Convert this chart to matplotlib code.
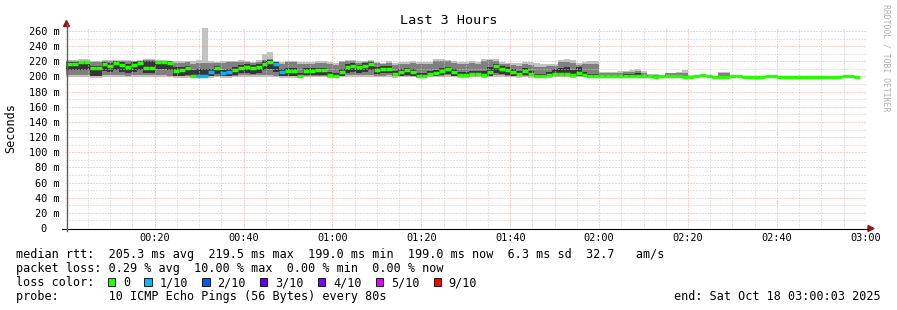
import matplotlib
matplotlib.use("Agg")
import matplotlib.pyplot as plt
import numpy as np
from matplotlib.patches import Rectangle, Polygon
from matplotlib.lines import Line2D

plt.rcParams['font.family'] = ['DejaVu Sans Mono']

# ---------------- data ----------------
title = "Last 3 Hours"
y_label = "Seconds"
x_tick_minutes = [20, 40, 60, 80, 100, 120, 140, 160, 180]
x_tick_labels = ["00:20", "00:40", "01:00", "01:20", "01:40", "02:00", "02:20", "02:40", "03:00"]
y_tick_values = [0, 20, 40, 60, 80, 100, 120, 140, 160, 180, 200, 220, 240, 260]
y_tick_labels = ["0  ", "20 m", "40 m", "60 m", "80 m", "100 m", "120 m", "140 m", "160 m",
                 "180 m", "200 m", "220 m", "240 m", "260 m"]
step_seconds = 80

# median rtt per 80 s step (ms)
median = [216.5, 216.5, 218.7, 219, 211, 211, 216, 214, 217.7, 215,
          213, 215, 217.7, 211, 211, 218.5, 218.5, 217.7, 207.7, 209,
          211, 200, 200, 200, 206, 211, 205, 206, 209, 211,
          213, 211, 213, 217, 218.5, 216, 206, 207.5, 207.5, 200.5,
          207.7, 207.7, 208, 208, 202, 200.5, 206, 213, 214, 212,
          214, 216, 208.6, 210, 210.5, 203.5, 205.5, 208, 205.5, 200.5,
          200.6, 203.3, 204.5, 207.7, 209.5, 206.5, 201.5, 202, 203, 203,
          202.5, 206, 213.5, 210.5, 208.6, 205.5, 203.7, 207.3, 203.3, 200.6,
          200.6, 202, 203, 203, 203.5, 202, 205, 202, 200.5, 200.5,
          200.5, 200.5, 200.5, 200.5, 200.5, 200.5, 200.5, 200.5, 200.5, 199,
          200, 200, 200, 200, 199, 199, 200, 201.5, 200, 199,
          199, 199, 200, 200, 199, 199, 199, 199, 200, 200,
          199, 199, 199, 199, 199, 199, 199, 199, 199, 199,
          199, 200, 200, 199]

# lost pings out of 10 per step
loss = [0] * 22 + [1, 1, 1, 0, 1, 1] + [0] * 7 + [1, 1] + [0] * 97

# smoke: outer band (min..max ping)
smoke_hi = [222, 222, 222.5, 222.5, 221, 221, 222, 221.5, 222, 221.5,
            222, 221, 222, 222.5, 222.5, 222, 222, 221, 220, 220,
            220.5, 220.5, 221.5, 264, 220, 219, 220, 220.5, 221, 221.5,
            220, 219.5, 221.5, 230, 232, 220, 219, 221, 221, 219.5,
            219, 219, 220, 220, 219, 218, 221, 222, 222, 220,
            221, 222, 219.5, 218, 220, 218, 219, 219, 221, 219.5,
            219, 218.5, 222.5, 222.5, 222, 220, 219, 219.5, 220, 219,
            223, 223.5, 222.5, 219, 218, 218, 217.5, 219, 219, 217.5,
            217, 217, 217, 222, 222.5, 221.5, 218, 219.5, 220.5, 220,
            206, 206, 206.5, 207, 207, 208.5, 209.5, 207, 203.5, 203,
            202, 205, 205, 206.5, 209, 202, 201.5, 202.5, 201, 201,
            205.5, 205.5, 201, 201, 200, 200, 200, 200, 201, 201,
            200, 200, 200, 200, 200, 200, 200, 200, 200, 200,
            200, 201, 201, 200]
smoke_lo = [199.5, 199.5, 199, 199, 198.5, 198.5, 199.5, 199.5, 199.5, 199.5,
            199, 199, 199, 199.5, 199.5, 199, 199, 199, 198.5, 198.5,
            198.5, 198.5, 198, 198, 198.5, 199, 198.5, 198.5, 199, 199,
            199, 199, 199.5, 199.5, 199.5, 199, 198.5, 198.5, 198.5, 198.5,
            199, 199, 199, 199, 198.5, 198.5, 199, 199.5, 199.5, 199.5,
            199.5, 199.5, 199, 199, 199, 198.5, 199, 199, 199, 198.5,
            198.5, 199, 199, 199.5, 199.5, 199, 198.5, 198.5, 199, 199,
            198.5, 199, 199.5, 199.5, 199, 199, 198.5, 199, 198.5, 198.5,
            198.5, 198.5, 199, 199, 199, 198.5, 199, 199, 198.5, 198.5,
            199, 199, 199, 199, 199, 199, 199, 199, 199, 198,
            199, 199, 199, 199, 198, 198, 199, 200, 199, 198,
            198, 198, 199, 199, 198, 198, 198, 198, 199, 199,
            198, 198, 198, 198, 198, 198, 198, 198, 198, 198,
            198, 199, 199, 198]
# middle band
smoke_mid_hi = [220.5, 220.5, 221, 221, 219.5, 219.5, 220.5, 220, 221, 220,
                220.5, 220, 221, 221.5, 221.5, 221, 221, 220, 218, 218,
                218.5, 217, 217.5, 218, 218, 217.5, 218, 218.5, 219.5, 219.5,
                218.5, 218, 219.5, 222, 223, 219, 217, 218.5, 219.5, 217,
                217, 217, 218, 218, 216, 215.5, 219, 220, 220, 218,
                219, 220, 217.5, 216.5, 218, 215, 216.5, 217, 218, 216,
                216, 216, 220, 220.5, 220, 218, 216, 217, 217.5, 216.5,
                221, 221.5, 221, 217, 216, 215.5, 214.5, 216, 215.5, 213,
                212.5, 213.5, 213.5, 219, 219.5, 218, 215, 217, 217, 217,
                204.5, 204.5, 205, 205, 205.5, 206, 207, 205, 202, 201.5,
                201, 204, 204, 204, 204, 201, 201, 202, 201, 200.5,
                205, 205, 200.5, 200.5, 199.5, 199.5, 199.5, 199.5, 200.5, 200.5,
                199.5, 199.5, 199.5, 199.5, 199.5, 199.5, 199.5, 199.5, 199.5, 199.5,
                199.5, 200.5, 200.5, 199.5]
smoke_mid_lo = [202, 202, 201.5, 201.5, 200.5, 200.5, 202, 202.5, 202, 201.5,
                201, 201.5, 201.5, 202.5, 202.5, 202, 201.5, 201, 200.5, 200.5,
                200.5, 199.5, 199.5, 199.5, 200, 201, 200.5, 200.5, 201, 201.5,
                201.5, 201.5, 202, 202, 202.5, 201, 200, 200, 200, 199.5,
                200.5, 200.5, 201, 201, 199.5, 199.5, 200.5, 201.5, 202, 201.5,
                202, 202, 201, 201, 201.5, 200, 200.5, 201, 200.5, 199.5,
                199.5, 200, 200.5, 201, 201.5, 200.5, 200, 200, 200.5, 200.5,
                200, 200.5, 202, 201.5, 201, 200.5, 200, 200.5, 200, 199.5,
                199.5, 199.5, 200, 200, 200, 199.5, 200.5, 200, 199.5, 199.5,
                199.5, 199.5, 199.5, 199.5, 199.5, 199.5, 199.5, 199.5, 199.5, 198.5,
                199.5, 199.5, 199.5, 199.5, 198.5, 198.5, 199.5, 200.5, 199.5, 198.5,
                198.5, 198.5, 199.5, 199.5, 198.5, 198.5, 198.5, 198.5, 199.5, 199.5,
                198.5, 198.5, 198.5, 198.5, 198.5, 198.5, 198.5, 198.5, 198.5, 198.5,
                198.5, 199.5, 199.5, 198.5]
# inner (darkest) band around the median
smoke_in_hi = [219.5, 219.5, 221, 221, 214, 214, 219, 217.5, 220.5, 218.5,
               217, 218.5, 220.5, 221, 221, 221, 221, 220.5, 212, 212.5,
               214, 209, 210, 210, 209.5, 214, 208.5, 209.5, 212.5, 215,
               216.5, 215, 216.5, 220, 221.5, 219, 209.5, 211, 211, 204,
               211, 211, 211.5, 211.5, 206, 204, 210, 216.5, 217.5, 215.5,
               217.5, 219, 212.5, 213.5, 214, 207.5, 209.5, 211.5, 209.5, 204,
               204, 207, 208.5, 211.5, 213, 210, 205.5, 206, 207, 207,
               207.5, 213, 217, 214.5, 212.5, 209.5, 207.5, 211, 207.5, 203.5,
               203.5, 206, 210, 211.5, 212.5, 208.5, 212.5, 206.5, 203.5, 203,
               202, 202, 202.5, 202.5, 203, 203, 204, 202.5, 201.5, 199.5,
               200.5, 200.5, 200.5, 200.5, 199.5, 199.5, 200.5, 202, 200.5, 199.5,
               199.5, 199.5, 200.5, 200.5, 199.5, 199.5, 199.5, 199.5, 200.5, 200.5,
               199.5, 199.5, 199.5, 199.5, 199.5, 199.5, 199.5, 199.5, 199.5, 199.5,
               199.5, 200.5, 200.5, 199.5]
smoke_in_lo = [208, 208, 209, 209, 200.5, 200.5, 207, 205.5, 208, 206.5,
               204.5, 206.5, 208, 205, 205, 210, 210, 209, 200.5, 200.5,
               202, 199.5, 199.5, 199.5, 200.5, 203, 200.5, 200.5, 202, 204,
               205, 203.5, 205, 209, 210, 206, 200.5, 200.5, 200.5, 199.5,
               201.5, 201.5, 202, 202, 200, 199.5, 201, 205, 206, 204.5,
               206, 208, 203, 204, 204, 200.5, 201, 202, 201, 199.5,
               199.5, 200.5, 200.5, 202, 203, 201, 200, 200.5, 200.5, 200.5,
               200.5, 201, 205, 203.5, 202, 201, 200.5, 201.5, 200.5, 199.5,
               199.5, 200, 200.5, 200.5, 201, 200.5, 201, 200.5, 199.5, 199.5,
               199.5, 199.5, 199.5, 199.5, 199.5, 199.5, 199.5, 199.5, 199.5, 198.5,
               199.5, 199.5, 199.5, 199.5, 198.5, 198.5, 199.5, 201, 199.5, 198.5,
               198.5, 198.5, 199.5, 199.5, 198.5, 198.5, 198.5, 198.5, 199.5, 199.5,
               198.5, 198.5, 198.5, 198.5, 198.5, 198.5, 198.5, 198.5, 198.5, 198.5,
               198.5, 199.5, 199.5, 198.5]

loss_labels = ["0", "1/10", "2/10", "3/10", "4/10", "5/10", "9/10"]
loss_colors = ["#26ff00", "#00b8ff", "#0059ff", "#5e00ff", "#7e00ff", "#dd00ff", "#ff0000"]

stats_rtt = "median rtt:  205.3 ms avg  219.5 ms max  199.0 ms min  199.0 ms now  6.3 ms sd  32.7   am/s"
stats_loss = "packet loss: 0.29 % avg  10.00 % max  0.00 % min  0.00 % now"
probe_text = "probe:       10 ICMP Echo Pings (56 Bytes) every 80s"
end_text = "end: Sat Oct 18 03:00:03 2025"
side_text = "RRDTOOL / TOBI OETIKER"

# ---------------- figure ----------------
W, H = 897, 310
fig = plt.figure(figsize=(W / 100, H / 100), dpi=100)
fig.patch.set_facecolor("white")


def fx(px):
    return px / W


def fy(py):
    return 1 - py / H


ax = fig.add_axes([fx(66), fy(228), 800 / W, 200 / H])
ax.set_facecolor("white")

n = len(median)
step = step_seconds / 60.0
t_start = 0.05
edges = t_start + np.arange(n + 1) * step


def stair(v):
    v = np.asarray(v, dtype=float)
    return np.append(v, v[-1])


ax.fill_between(edges, stair(smoke_lo), stair(smoke_hi), step="post", color="#c2c2c2", lw=0, zorder=1)
ax.fill_between(edges, stair(smoke_mid_lo), stair(smoke_mid_hi), step="post", color="#808080", lw=0, zorder=1.1)
ax.fill_between(edges, stair(smoke_in_lo), stair(smoke_in_hi), step="post", color="#363636", lw=0, zorder=1.2)
ax.hlines(median, edges[:-1], edges[1:], colors=[loss_colors[l] for l in loss], lw=2.5, zorder=3)

ax.set_xlim(0.05, 180.05)
ax.set_ylim(0, 264)
ax.set_xticks(x_tick_minutes)
ax.set_xticklabels(x_tick_labels)
ax.set_xticks(np.arange(5, 180, 5), minor=True)
ax.set_yticks(y_tick_values)
ax.set_yticklabels(y_tick_labels)
ax.set_yticks(np.arange(10, 264, 10), minor=True)
ax.tick_params(axis="both", which="both", length=0)
ax.tick_params(axis="x", labelsize=7.4, pad=3.5, colors="#000000")
ax.tick_params(axis="y", labelsize=7.4, pad=4.5, colors="#000000")
ax.set_axisbelow(False)
ax.grid(which="major", color="#f0a0a0", linestyle=(0, (1, 2)), lw=0.72)
ax.grid(which="minor", color="#c8c8c8", linestyle=(0, (1, 2)), lw=0.72)
for s in ax.spines.values():
    s.set_visible(False)

# axis lines and arrows
fig.add_artist(Line2D([fx(62), fx(868)], [fy(228.5), fy(228.5)], color="#000000", lw=0.8))
fig.add_artist(Line2D([fx(66.5), fx(66.5)], [fy(231), fy(24)], color="#606060", lw=1.0))
fig.add_artist(Polygon([[fx(63.5), fy(26.5)], [fx(69.5), fy(26.5)], [fx(66.5), fy(20.5)]],
                       closed=True, color="#8b1a1a", transform=fig.transFigure))
fig.add_artist(Polygon([[fx(868), fy(225.5)], [fx(868), fy(231.5)], [fx(874), fy(228.5)]],
                       closed=True, color="#8b1a1a", transform=fig.transFigure))

# titles
fig.text(fx(448.5), fy(24), title, ha="center", va="baseline", fontsize=9.7)
fig.text(fx(11), fy(128), y_label, ha="center", va="center", rotation=90, fontsize=8.5)
fig.text(fx(886), fy(4), side_text, ha="center", va="top", rotation=270, fontsize=5.9, color="#b0b0b0")

# legend
fs = 8.5
cw = 7.14
fig.text(fx(16), fy(258), stats_rtt, ha="left", va="baseline", fontsize=fs)
fig.text(fx(16), fy(272), stats_loss, ha="left", va="baseline", fontsize=fs)
fig.text(fx(16), fy(286), "loss color:", ha="left", va="baseline", fontsize=fs)
bx = 108.0
for lab, col in zip(loss_labels, loss_colors):
    fig.add_artist(Rectangle((fx(bx), fy(285.5)), 7.3 / W, 7.3 / H, facecolor=col, edgecolor="#000000",
                             lw=0.6, transform=fig.transFigure))
    fig.text(fx(bx + 15), fy(286), lab, ha="left", va="baseline", fontsize=fs)
    bx = bx + 15 + (len(lab) + 2) * cw
fig.text(fx(16), fy(300), probe_text, ha="left", va="baseline", fontsize=fs)
fig.text(fx(880.5), fy(300), end_text, ha="right", va="baseline", fontsize=fs)

fig.savefig("out.png", dpi=100, facecolor="white")
